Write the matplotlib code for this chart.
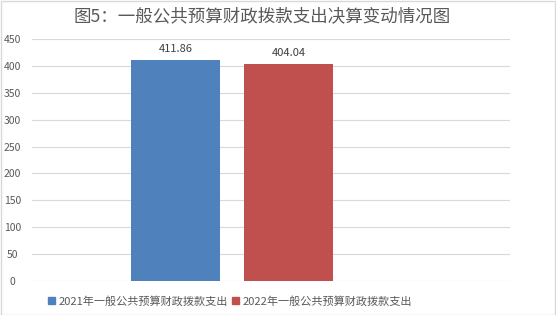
import matplotlib
matplotlib.use("Agg")
import matplotlib.pyplot as plt
from matplotlib.patches import Rectangle

plt.rcParams['font.family'] = ['Noto Sans CJK SC', 'DejaVu Sans']

title = "图5：一般公共预算财政拨款支出决算变动情况图"
series = ["2021年一般公共预算财政拨款支出", "2022年一般公共预算财政拨款支出"]
values = [411.86, 404.04]
colors = ["#4F81BD", "#C0504D"]
yticks = [0, 50, 100, 150, 200, 250, 300, 350, 400, 450]

W, H = 556, 315
fig = plt.figure(figsize=(W / 100, H / 100), dpi=100)
fig.patches.append(Rectangle((0.5 / W, 0.5 / H), 1 - 1.5 / W, 1 - 1.5 / H, transform=fig.transFigure,
                             fill=False, edgecolor="#D9D9D9", linewidth=1))

left, right = 32 / W, 510 / W
bottom, top = 1 - 281 / H, 1 - 39 / H
ax = fig.add_axes([left, bottom, right - left, top - bottom])

positions = [0.300, 0.537]
width = 0.186
bars = ax.bar(positions, values, width=width, color=colors, label=series, zorder=3)
for p, v in zip(positions, values):
    ax.text(p, v + 11, f"{v:.2f}", ha="center", va="bottom", fontsize=8, color="#404040")

ax.set_xlim(0, 1)
ax.set_ylim(0, 450)
ax.set_yticks(yticks)
ax.set_xticks([])
ax.grid(axis="y", color="#D9D9D9", linewidth=0.8, zorder=0)
for s in ax.spines.values():
    s.set_visible(False)
ax.tick_params(axis="y", length=0, labelsize=7.5, labelcolor="#595959", pad=14)
for lbl in ax.get_yticklabels():
    lbl.set_horizontalalignment("center")

fig.text(262 / W, 1 - 16 / H, title, ha="center", va="center", fontsize=12.6, color="#595959")

handles = [Rectangle((0, 0), 1, 1, color=c) for c in colors]
fig.legend(handles, series, loc="center", bbox_to_anchor=(230 / W, 1 - 301 / H), ncol=2,
           frameon=False, fontsize=8, handlelength=0.6, handleheight=0.6, handletextpad=0.3,
           columnspacing=0.4, labelcolor="#595959")

fig.savefig("out.png", dpi=100)
